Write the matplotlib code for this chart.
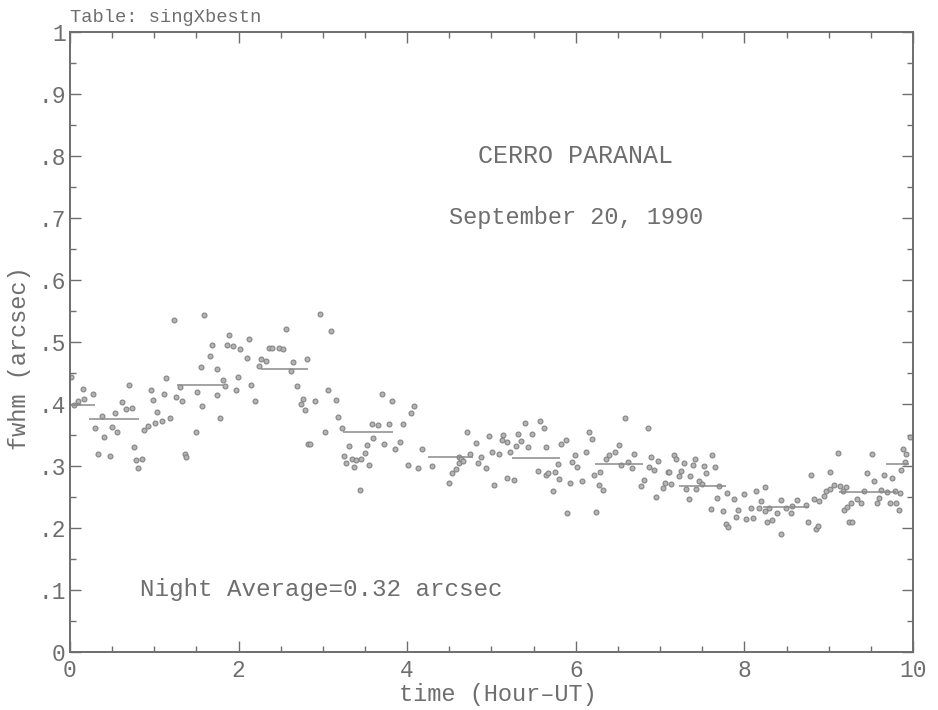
import numpy as np
import matplotlib
matplotlib.use("Agg")
import matplotlib.pyplot as plt
from matplotlib.ticker import MultipleLocator

# seeing measurements, hour UT vs fwhm (arcsec)
t = [0.01, 0.05, 0.09, 0.15, 0.17, 0.27, 0.30, 0.33, 0.38, 0.40, 0.48, 0.50,
 0.54, 0.56, 0.62, 0.66, 0.70, 0.74, 0.76, 0.78, 0.81, 0.86, 0.88, 0.92,
 0.96, 0.99, 1.01, 1.03, 1.09, 1.11, 1.14, 1.19, 1.23, 1.26, 1.30, 1.33,
 1.36, 1.38, 1.49, 1.51, 1.55, 1.57, 1.59, 1.66, 1.69, 1.74, 1.75, 1.78,
 1.81, 1.84, 1.86, 1.89, 1.93, 1.97, 1.99, 2.02, 2.10, 2.12, 2.15, 2.19,
 2.24, 2.27, 2.32, 2.36, 2.40, 2.48, 2.53, 2.56, 2.62, 2.65, 2.69, 2.74,
 2.76, 2.79, 2.81, 2.82, 2.85, 2.91, 2.97, 3.02, 3.06, 3.10, 3.15, 3.18,
 3.23, 3.25, 3.28, 3.31, 3.35, 3.37, 3.39, 3.44, 3.45, 3.50, 3.52, 3.55,
 3.58, 3.60, 3.65, 3.70, 3.73, 3.78, 3.82, 3.85, 3.91, 3.95, 4.01, 4.05,
 4.08, 4.13, 4.18, 4.30, 4.50, 4.53, 4.58, 4.61, 4.62, 4.64, 4.66, 4.71,
 4.74, 4.82, 4.84, 4.88, 4.93, 4.97, 5.01, 5.03, 5.09, 5.13, 5.14, 5.18,
 5.19, 5.22, 5.27, 5.29, 5.32, 5.35, 5.40, 5.43, 5.48, 5.55, 5.58, 5.62,
 5.65, 5.65, 5.67, 5.73, 5.75, 5.79, 5.80, 5.82, 5.88, 5.90, 5.93, 5.96,
 5.99, 6.02, 6.07, 6.12, 6.16, 6.19, 6.22, 6.24, 6.28, 6.29, 6.32, 6.36,
 6.40, 6.46, 6.51, 6.54, 6.59, 6.62, 6.67, 6.69, 6.77, 6.81, 6.86, 6.87,
 6.89, 6.93, 6.95, 6.97, 7.03, 7.06, 7.09, 7.11, 7.13, 7.17, 7.19, 7.22,
 7.25, 7.28, 7.31, 7.34, 7.36, 7.39, 7.41, 7.43, 7.46, 7.50, 7.52, 7.54,
 7.60, 7.62, 7.65, 7.68, 7.70, 7.75, 7.78, 7.80, 7.81, 7.88, 7.90, 7.93,
 8.00, 8.02, 8.08, 8.10, 8.14, 8.17, 8.20, 8.24, 8.25, 8.27, 8.29, 8.33,
 8.39, 8.43, 8.43, 8.49, 8.55, 8.57, 8.63, 8.73, 8.76, 8.79, 8.83, 8.85,
 8.87, 8.89, 8.94, 8.97, 9.01, 9.01, 9.06, 9.11, 9.13, 9.17, 9.18, 9.20,
 9.22, 9.24, 9.26, 9.28, 9.34, 9.38, 9.42, 9.46, 9.52, 9.54, 9.57, 9.60,
 9.62, 9.66, 9.69, 9.73, 9.75, 9.79, 9.80, 9.83, 9.85, 9.86, 9.88, 9.91,
 9.92, 9.96]
fwhm = [0.444, 0.398, 0.405, 0.424, 0.408, 0.416, 0.361, 0.319, 0.381, 0.347, 0.316, 0.363,
 0.385, 0.355, 0.403, 0.392, 0.431, 0.394, 0.331, 0.310, 0.297, 0.311, 0.358, 0.365,
 0.422, 0.406, 0.370, 0.387, 0.372, 0.416, 0.442, 0.377, 0.535, 0.411, 0.427, 0.405,
 0.319, 0.315, 0.354, 0.420, 0.459, 0.396, 0.544, 0.478, 0.495, 0.457, 0.415, 0.377,
 0.439, 0.429, 0.495, 0.512, 0.494, 0.423, 0.444, 0.489, 0.474, 0.505, 0.431, 0.404,
 0.461, 0.473, 0.469, 0.490, 0.490, 0.490, 0.488, 0.521, 0.453, 0.468, 0.429, 0.400,
 0.408, 0.391, 0.472, 0.335, 0.335, 0.405, 0.545, 0.355, 0.423, 0.517, 0.406, 0.379,
 0.362, 0.316, 0.305, 0.332, 0.312, 0.299, 0.309, 0.262, 0.311, 0.321, 0.334, 0.302,
 0.368, 0.345, 0.366, 0.416, 0.335, 0.367, 0.404, 0.327, 0.338, 0.368, 0.302, 0.385,
 0.397, 0.297, 0.328, 0.300, 0.272, 0.288, 0.295, 0.314, 0.304, 0.311, 0.308, 0.354,
 0.319, 0.337, 0.304, 0.314, 0.297, 0.348, 0.323, 0.270, 0.320, 0.342, 0.350, 0.338,
 0.281, 0.322, 0.277, 0.332, 0.352, 0.341, 0.369, 0.330, 0.351, 0.292, 0.373, 0.362,
 0.330, 0.285, 0.288, 0.260, 0.291, 0.303, 0.279, 0.335, 0.342, 0.224, 0.272, 0.306,
 0.317, 0.299, 0.275, 0.322, 0.355, 0.344, 0.285, 0.226, 0.269, 0.291, 0.262, 0.312,
 0.318, 0.323, 0.334, 0.302, 0.377, 0.307, 0.297, 0.319, 0.268, 0.277, 0.362, 0.299,
 0.315, 0.294, 0.250, 0.308, 0.264, 0.272, 0.291, 0.291, 0.271, 0.318, 0.312, 0.284,
 0.292, 0.304, 0.263, 0.247, 0.284, 0.302, 0.312, 0.263, 0.276, 0.271, 0.300, 0.288,
 0.230, 0.318, 0.298, 0.249, 0.267, 0.227, 0.206, 0.256, 0.202, 0.246, 0.217, 0.229,
 0.255, 0.215, 0.232, 0.216, 0.259, 0.232, 0.243, 0.266, 0.228, 0.209, 0.232, 0.213,
 0.224, 0.245, 0.191, 0.232, 0.224, 0.235, 0.245, 0.237, 0.210, 0.285, 0.246, 0.199,
 0.203, 0.244, 0.252, 0.260, 0.263, 0.291, 0.269, 0.321, 0.268, 0.260, 0.229, 0.266,
 0.234, 0.209, 0.240, 0.209, 0.246, 0.240, 0.259, 0.288, 0.319, 0.276, 0.241, 0.248,
 0.261, 0.285, 0.258, 0.241, 0.280, 0.260, 0.241, 0.229, 0.256, 0.294, 0.327, 0.307,
 0.319, 0.346]

# interval averages: start, end, mean
seg_start = [0.00, 0.23, 1.27, 2.27, 3.24, 4.25, 5.24, 6.23, 7.22, 8.22, 9.12, 9.68]
seg_end = [0.30, 0.82, 1.82, 2.82, 3.83, 4.78, 5.81, 6.80, 7.78, 8.77, 9.80, 9.95]
seg_mean = [0.398, 0.376, 0.430, 0.456, 0.355, 0.315, 0.313, 0.303, 0.268, 0.234, 0.258, 0.303]

xt = [0, 2, 4, 6, 8, 10]
xt_lab = ["0", "2", "4", "6", "8", "10"]
yt = [0, 0.1, 0.2, 0.3, 0.4, 0.5, 0.6, 0.7, 0.8, 0.9, 1.0]
yt_lab = ["0", ".1", ".2", ".3", ".4", ".5", ".6", ".7", ".8", ".9", "1"]

ink = "#6e6e6e"
fnt = "Liberation Mono"

fig = plt.figure(figsize=(9.38, 7.10), dpi=100)
ax = fig.add_axes([0.0746, 0.0817, 0.8987, 0.8733])

ax.plot(t, fwhm, "o", ms=3.5, mfc="#b4b4b4", mec="#848484", mew=0.8, ls="none")
ax.hlines(seg_mean, seg_start, seg_end, color="#8a8a8a", lw=1.1)

ax.set_xlim(0, 10)
ax.set_ylim(0, 1)
ax.set_xticks(xt)
ax.set_xticklabels(xt_lab, family=fnt)
ax.set_yticks(yt)
ax.set_yticklabels(yt_lab, family=fnt)
ax.xaxis.set_minor_locator(MultipleLocator(0.5))
ax.yaxis.set_minor_locator(MultipleLocator(0.05))
ax.tick_params(which="both", direction="in", top=True, right=True, color=ink,
               labelsize=16.5, labelcolor=ink)
ax.tick_params(which="major", length=8, width=1.0)
ax.tick_params(which="minor", length=4, width=1.0)
ax.tick_params(axis="x", pad=5)
ax.tick_params(axis="y", pad=3)
for s in ax.spines.values():
    s.set_color(ink)
    s.set_linewidth(1.4)

ax.set_xlabel("time (Hour\u2013UT)", family=fnt, fontsize=17, color=ink)
ax.xaxis.set_label_coords(0.508, -0.050)
ax.set_ylabel("fwhm (arcsec)", family=fnt, fontsize=17, color=ink)
ax.yaxis.set_label_coords(-0.046, 0.474)

ax.text(0.0, 1.01, "Table: singXbestn", transform=ax.transAxes, family=fnt,
        fontsize=13.5, color=ink, ha="left", va="bottom")
ax.text(6.0, 0.80, "CERRO PARANAL", family=fnt, fontsize=18, color=ink, ha="center", va="center")
ax.text(6.0, 0.70, "September 20, 1990", family=fnt, fontsize=17, color=ink, ha="center", va="center")
ax.text(0.83, 0.10, "Night Average=0.32 arcsec", family=fnt, fontsize=17.5, color=ink,
        ha="left", va="center")

fig.savefig("out.png", dpi=100)
